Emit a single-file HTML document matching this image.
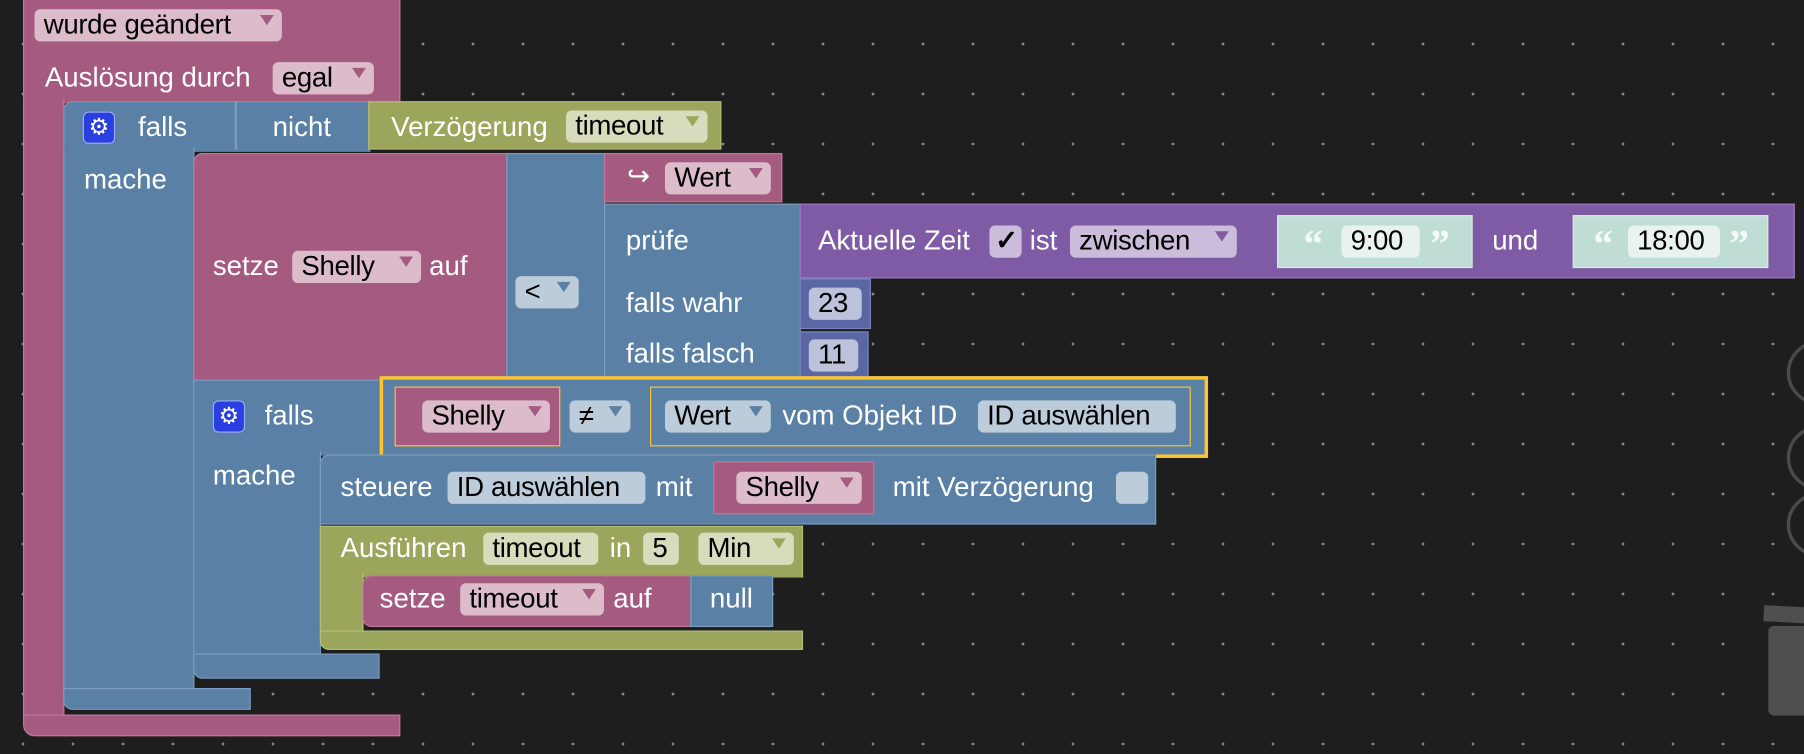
<!DOCTYPE html>
<html><head><meta charset="utf-8">
<style>
html,body{margin:0;padding:0}
body{width:1804px;height:754px;overflow:hidden;background-color:#1e1e1e;
background-image:radial-gradient(circle,#8a8a8a 1.2px,transparent 1.6px);
background-size:50px 50px;background-position:-2px 19px;font-family:"Liberation Sans",sans-serif}
#s{position:absolute;left:0;top:0;width:1568px;height:655px;transform:scale(1.1505);transform-origin:0 0}
.b{position:absolute;box-sizing:border-box}
.pk{background:#a55b80;border:1px solid #c07a9c}
.bl{background:#5b80a5;border:1px solid #7c9cc0}
.gr{background:#9ba55b;border:1px solid #b4bd78}
.pu{background:#805ba5;border:1px solid #9a7cc0}
.in{background:#5b67a5;border:1px solid #7a85c0}
.tx{background:#c0ddd5;border:1px solid #d5ebe5}
.t{position:absolute;color:#fff;font-size:24px;line-height:26px;white-space:nowrap}
.f{position:absolute;box-sizing:border-box;border-radius:5px;color:#000;font-size:24px;line-height:28px;height:28px;padding-left:8px;white-space:nowrap;letter-spacing:-0.3px}
.fp{background:#dcbccb}.fb{background:#bdccdb}.fg{background:#d8dcbd}.fu{background:#cbbcdb}.ft{background:#e8f2ef}.fi{background:#bdc2db}
.dd::after{content:"";position:absolute;right:7px;top:5px;border-left:6px solid transparent;border-right:6px solid transparent;border-top:9px solid}
.fp.dd::after{border-top-color:#a55b80}.fb.dd::after{border-top-color:#5b80a5}.fg.dd::after{border-top-color:#9ba55b}.fu.dd::after{border-top-color:#805ba5}
.gear{position:absolute;width:28px;height:28px;border-radius:5px;background:#2a3fe0;border:1px solid #9aa8ff;box-sizing:border-box;color:#fff;font-size:20px;line-height:26px;text-align:center}
.y{position:absolute;box-sizing:border-box;border:3px solid #fcc52f}
.yi{border:1.5px solid #fcc52f}
.q{position:absolute;color:#f4faf8;font-size:34px;line-height:34px;font-family:'Liberation Serif',serif;font-weight:bold}
</style></head><body><div id="s">
<div class="b pk" style="left:20px;top:-2px;width:328px;height:92px;border-bottom:none"></div>
<div class="b pk" style="left:20px;top:86px;width:36px;height:540px;border-top:none;border-bottom:none"></div>
<div class="b pk" style="left:20px;top:621px;width:328px;height:19px;border-radius:0 0 0 10px"></div>
<div class="f fp dd" style="left:30px;top:8px;width:215px">wurde geändert</div>
<div class="t" style="left:39px;top:55px">Auslösung durch</div>
<div class="f fp dd" style="left:237px;top:54px;width:88px">egal</div>
<div class="b bl" style="left:55px;top:88px;width:267px;height:44px;border-radius:8px 0 0 0;border-bottom:none"></div>
<div class="b bl" style="left:55px;top:128px;width:114px;height:472px;border-top:none;border-bottom:none"></div>
<div class="b bl" style="left:55px;top:598px;width:163px;height:19px;border-radius:0 0 0 8px"></div>
<div class="b" style="left:204px;top:88px;width:2px;height:42px;background:#7c9cc0"></div>
<div class="gear" style="left:72px;top:97px">⚙</div>
<div class="t" style="left:120px;top:98px">falls</div>
<div class="t" style="left:237px;top:98px">nicht</div>
<div class="t" style="left:73px;top:144px">mache</div>
<div class="b gr" style="left:320px;top:88px;width:307px;height:42px"></div>
<div class="t" style="left:340px;top:98px">Verzögerung</div>
<div class="f fg dd" style="left:492px;top:96px;width:123px">timeout</div>
<div class="b pk" style="left:168px;top:133px;width:273px;height:198px;border-radius:8px 0 0 0"></div>
<div class="t" style="left:185px;top:219px">setze</div>
<div class="f fp dd" style="left:254px;top:218px;width:112px">Shelly</div>
<div class="t" style="left:373px;top:219px">auf</div>
<div class="b bl" style="left:440px;top:133px;width:86px;height:198px"></div>
<div class="f fb dd" style="left:448px;top:240px;width:55px">&lt;</div>
<div class="b pk" style="left:525px;top:133px;width:155px;height:43px"></div>
<div class="t" style="left:545px;top:141px">↪</div>
<div class="f fp dd" style="left:578px;top:141px;width:92px">Wert</div>
<div class="b bl" style="left:525px;top:177px;width:171px;height:154px"></div>
<div class="t" style="left:544px;top:197px">prüfe</div>
<div class="t" style="left:544px;top:251px">falls wahr</div>
<div class="t" style="left:544px;top:295px">falls falsch</div>
<div class="b pu" style="left:695px;top:177px;width:865px;height:65px"></div>
<div class="t" style="left:711px;top:197px">Aktuelle Zeit</div>
<div class="f fu" style="left:860px;top:196px;width:28px;padding-left:5px;font-weight:bold">✓</div>
<div class="t" style="left:895px;top:197px">ist</div>
<div class="f fu dd" style="left:930px;top:196px;width:145px">zwischen</div>
<div class="b tx" style="left:1110px;top:187px;width:170px;height:46px"></div>
<div class="q" style="left:1133px;top:196px">“</div>
<div class="f ft" style="left:1166px;top:196px;width:68px;padding-left:8px">9:00</div>
<div class="q" style="left:1243px;top:196px">”</div>
<div class="t" style="left:1297px;top:197px">und</div>
<div class="b tx" style="left:1367px;top:187px;width:170px;height:46px"></div>
<div class="q" style="left:1385px;top:196px">“</div>
<div class="f ft" style="left:1415px;top:196px;width:80px;padding-left:8px">18:00</div>
<div class="q" style="left:1503px;top:196px">”</div>
<div class="b in" style="left:695px;top:242px;width:62px;height:44px"></div>
<div class="f fi" style="left:703px;top:250px;width:46px">23</div>
<div class="b in" style="left:695px;top:288px;width:60px;height:42px"></div>
<div class="f fi" style="left:703px;top:295px;width:43px">11</div>
<div class="b bl" style="left:168px;top:330px;width:170px;height:66px;border-bottom:none"></div>
<div class="b bl" style="left:168px;top:392px;width:111px;height:180px;border-top:none;border-bottom:none"></div>
<div class="b bl" style="left:168px;top:568px;width:162px;height:22px;border-radius:0 0 0 8px"></div>
<div class="gear" style="left:185px;top:348px">⚙</div>
<div class="t" style="left:230px;top:349px">falls</div>
<div class="t" style="left:185px;top:401px">mache</div>
<div class="b bl" style="left:330px;top:327px;width:720px;height:71px"></div>
<div class="y" style="left:330px;top:327px;width:720px;height:71px"></div>
<div class="b pk yi" style="left:343px;top:336px;width:144px;height:52px"></div>
<div class="f fp dd" style="left:367px;top:348px;width:111px">Shelly</div>
<div class="f fb dd" style="left:495px;top:348px;width:53px">≠</div>
<div class="b bl yi" style="left:565px;top:336px;width:470px;height:52px"></div>
<div class="f fb dd" style="left:578px;top:348px;width:92px">Wert</div>
<div class="t" style="left:680px;top:349px">vom Objekt ID</div>
<div class="f fb" style="left:850px;top:348px;width:172px">ID auswählen</div>
<div class="b bl" style="left:278px;top:395px;width:727px;height:61px;border-radius:8px 0 0 0"></div>
<div class="t" style="left:296px;top:411px">steuere</div>
<div class="f fb" style="left:389px;top:410px;width:172px">ID auswählen</div>
<div class="t" style="left:570px;top:411px">mit</div>
<div class="b pk" style="left:620px;top:401px;width:140px;height:46px"></div>
<div class="f fp dd" style="left:640px;top:410px;width:109px">Shelly</div>
<div class="t" style="left:776px;top:411px">mit Verzögerung</div>
<div class="f fb" style="left:970px;top:410px;width:28px"></div>
<div class="b gr" style="left:278px;top:457px;width:420px;height:45px;border-bottom:none"></div>
<div class="b gr" style="left:278px;top:498px;width:38px;height:54px;border-top:none;border-bottom:none"></div>
<div class="b gr" style="left:278px;top:548px;width:420px;height:17px;border-radius:0 0 0 8px"></div>
<div class="t" style="left:296px;top:464px">Ausführen</div>
<div class="f fg" style="left:420px;top:463px;width:100px">timeout</div>
<div class="t" style="left:530px;top:464px">in</div>
<div class="f fg" style="left:559px;top:463px;width:31px">5</div>
<div class="f fg dd" style="left:607px;top:463px;width:83px">Min</div>
<div class="b pk" style="left:315px;top:500px;width:286px;height:45px;border-radius:8px 0 0 8px"></div>
<div class="t" style="left:330px;top:508px">setze</div>
<div class="f fp dd" style="left:400px;top:507px;width:125px">timeout</div>
<div class="t" style="left:533px;top:508px">auf</div>
<div class="b bl" style="left:600px;top:500px;width:72px;height:45px"></div>
<div class="t" style="left:617px;top:508px">null</div>
<div class="b" style="left:1553px;top:296px;width:56px;height:56px;border-radius:50%;border:3px solid #4a4a4a"></div>
<div class="b" style="left:1553px;top:370px;width:56px;height:56px;border-radius:50%;border:3px solid #4a4a4a"></div>
<div class="b" style="left:1553px;top:428px;width:56px;height:56px;border-radius:50%;border:3px solid #4a4a4a"></div>
<div class="b" style="left:1533px;top:527px;width:40px;height:14px;background:#4f4f4f;transform:rotate(3deg)"></div>
<div class="b" style="left:1537px;top:544px;width:40px;height:78px;background:#4f4f4f;border-radius:5px"></div>
</div></body></html>
